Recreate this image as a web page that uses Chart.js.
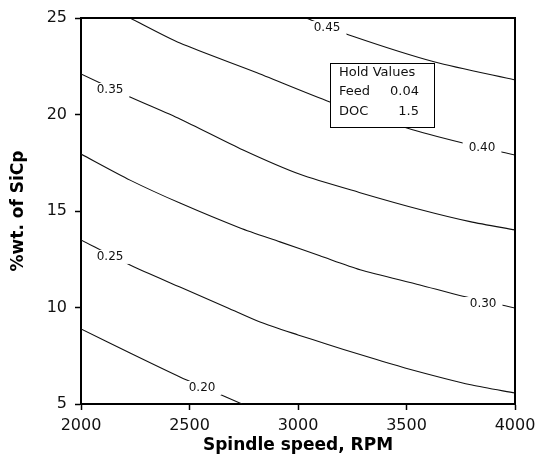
<!DOCTYPE html>
<html><head><meta charset="utf-8">
<script src="https://cdn.jsdelivr.net/npm/chart.js@4/dist/chart.umd.min.js"></script>
<style>html,body{margin:0;padding:0;background:#fff;}canvas{display:block;}</style>
</head><body>
<canvas id="c" width="535" height="454"></canvas>
<script>
// Axis ticks
const xTicks = [2000, 2500, 3000, 3500, 4000];
const yTicks = [5, 10, 15, 20, 25];

// Contour levels and their traced lines (Spindle speed RPM, %wt. of SiCp)
const levels = ['0.20', '0.25', '0.30', '0.35', '0.40', '0.45'];
const c020rpm = [2000, 2226, 2456, 2594, 2742];
const c020wt  = [8.89, 7.64, 6.40, 5.73, 5.00];
const c025rpm = [2000, 2226, 2456, 2677, 2825, 3000, 3134, 3286, 3493, 3802, 4000];
const c025wt  = [13.50, 12.20, 11.06, 9.98, 9.25, 8.58, 8.10, 7.56, 6.87, 5.98, 5.57];
const c030rpm = [2000, 2226, 2456, 2733, 2917, 3101, 3286, 3562, 3760, 4000];
const c030wt  = [17.95, 16.60, 15.41, 14.12, 13.40, 12.68, 11.96, 11.17, 10.58, 9.97];
const c035rpm = [2000, 2226, 2456, 2747, 3009, 3286, 3562, 3793, 4000];
const c035wt  = [22.10, 20.91, 19.77, 18.16, 16.90, 15.95, 15.08, 14.45, 14.02];
const c040rpm = [2226, 2456, 2802, 3147, 3502, 3760, 4000];
const c040wt  = [25.00, 23.70, 22.20, 20.65, 19.30, 18.52, 17.90];
const c045rpm = [3037, 3249, 3631, 4000];
const c045wt  = [25.00, 24.07, 22.72, 21.79];

// Where each contour label sits (data coordinates)
const labelRpm = [2558, 2134, 3853, 2134, 3848, 3134];
const labelWt  = [5.83, 12.62, 10.18, 21.27, 18.26, 24.48];

// Hold values box
const holdTitle = 'Hold Values';
const holdNames = ['Feed', 'DOC'];
const holdValues = ['0.04', '1.5'];

const contourRpm = [c020rpm, c025rpm, c030rpm, c035rpm, c040rpm, c045rpm];
const contourWt  = [c020wt, c025wt, c030wt, c035wt, c040wt, c045wt];

const datasets = levels.map((lv, i) => ({
  label: lv,
  data: contourRpm[i].map((r, j) => ({x: r, y: contourWt[i][j]})),
  showLine: true,
  borderColor: '#111',
  borderWidth: 1.1,
  pointRadius: 0,
  tension: 0.25,
  fill: false
}));

const overlay = {
  id: 'overlay',
  afterDatasetsDraw(chart) {
    const {ctx, scales: {x, y}, chartArea: a} = chart;
    ctx.save();
    ctx.font = '12px "DejaVu Sans"';
    ctx.textAlign = 'center';
    ctx.textBaseline = 'middle';
    levels.forEach((t, i) => {
      const px = x.getPixelForValue(labelRpm[i]);
      const py = y.getPixelForValue(labelWt[i]);
      const w = ctx.measureText(t).width;
      ctx.fillStyle = '#fff';
      ctx.fillRect(px - w / 2 - 6, py - 7, w + 12, 14);
      ctx.fillStyle = '#111';
      ctx.fillText(t, px, py);
    });
    const bx = a.left + 249, by = a.top + 45, bw = 104, bh = 64;
    ctx.fillStyle = '#fff';
    ctx.fillRect(bx, by, bw, bh);
    ctx.strokeStyle = '#000';
    ctx.lineWidth = 1;
    ctx.strokeRect(bx + 0.5, by + 0.5, bw, bh);
    ctx.font = '13px "DejaVu Sans"';
    ctx.fillStyle = '#111';
    ctx.textAlign = 'left';
    ctx.fillText(holdTitle, bx + 9, by + 10);
    holdNames.forEach((n, i) => {
      ctx.textAlign = 'left';
      ctx.fillText(n, bx + 9, by + 29 + i * 20);
      ctx.textAlign = 'right';
      ctx.fillText(holdValues[i], bx + 89, by + 29 + i * 20);
    });
    ctx.restore();
  },
  afterDraw(chart) {
    const {ctx, chartArea: a} = chart;
    ctx.save();
    ctx.strokeStyle = '#000';
    ctx.lineWidth = 2;
    ctx.beginPath();
    ctx.moveTo(a.left, a.top);
    ctx.lineTo(a.right, a.top);
    ctx.lineTo(a.right, a.bottom);
    ctx.stroke();
    ctx.restore();
  }
};

const tickFont = {family: 'DejaVu Sans', size: 16};
const titleFont = {family: 'DejaVu Sans', size: 17, weight: 'bold', lineHeight: 1};

new Chart(document.getElementById('c'), {
  type: 'scatter',
  data: {datasets},
  options: {
    responsive: false,
    animation: false,
    devicePixelRatio: 1,
    layout: {padding: {top: 18, right: 20, left: 0, bottom: 0}},
    plugins: {legend: {display: false}, tooltip: {enabled: false}},
    scales: {
      x: {
        type: 'linear', min: xTicks[0], max: xTicks[xTicks.length - 1],
        afterBuildTicks: s => { s.ticks = xTicks.map(v => ({value: v})); },
        ticks: {font: tickFont, color: '#111', padding: 6, maxRotation: 0, autoSkip: false, callback: v => String(v)},
        grid: {drawOnChartArea: false, drawTicks: true, tickLength: 6, tickColor: '#000', tickWidth: 1.5},
        border: {display: true, color: '#000', width: 2},
        title: {display: true, text: 'Spindle speed, RPM', font: titleFont, color: '#000', padding: {top: 0, bottom: 0}},
        afterFit: s => { s.height = 50; s.paddingLeft = 0; s.paddingRight = 0; }
      },
      y: {
        type: 'linear', min: yTicks[0], max: yTicks[yTicks.length - 1],
        afterBuildTicks: s => { s.ticks = yTicks.map(v => ({value: v})); },
        ticks: {font: tickFont, color: '#111', padding: 8, autoSkip: false, callback: v => String(v)},
        grid: {drawOnChartArea: false, drawTicks: true, tickLength: 6, tickColor: '#000', tickWidth: 1.5},
        border: {display: true, color: '#000', width: 2},
        title: {display: true, text: '%wt. of SiCp', font: titleFont, color: '#000', padding: {top: 10, bottom: 0}},
        afterFit: s => { s.width = 81; s.paddingTop = 0; s.paddingBottom = 0; }
      }
    }
  },
  plugins: [overlay]
});
</script>
</body></html>
